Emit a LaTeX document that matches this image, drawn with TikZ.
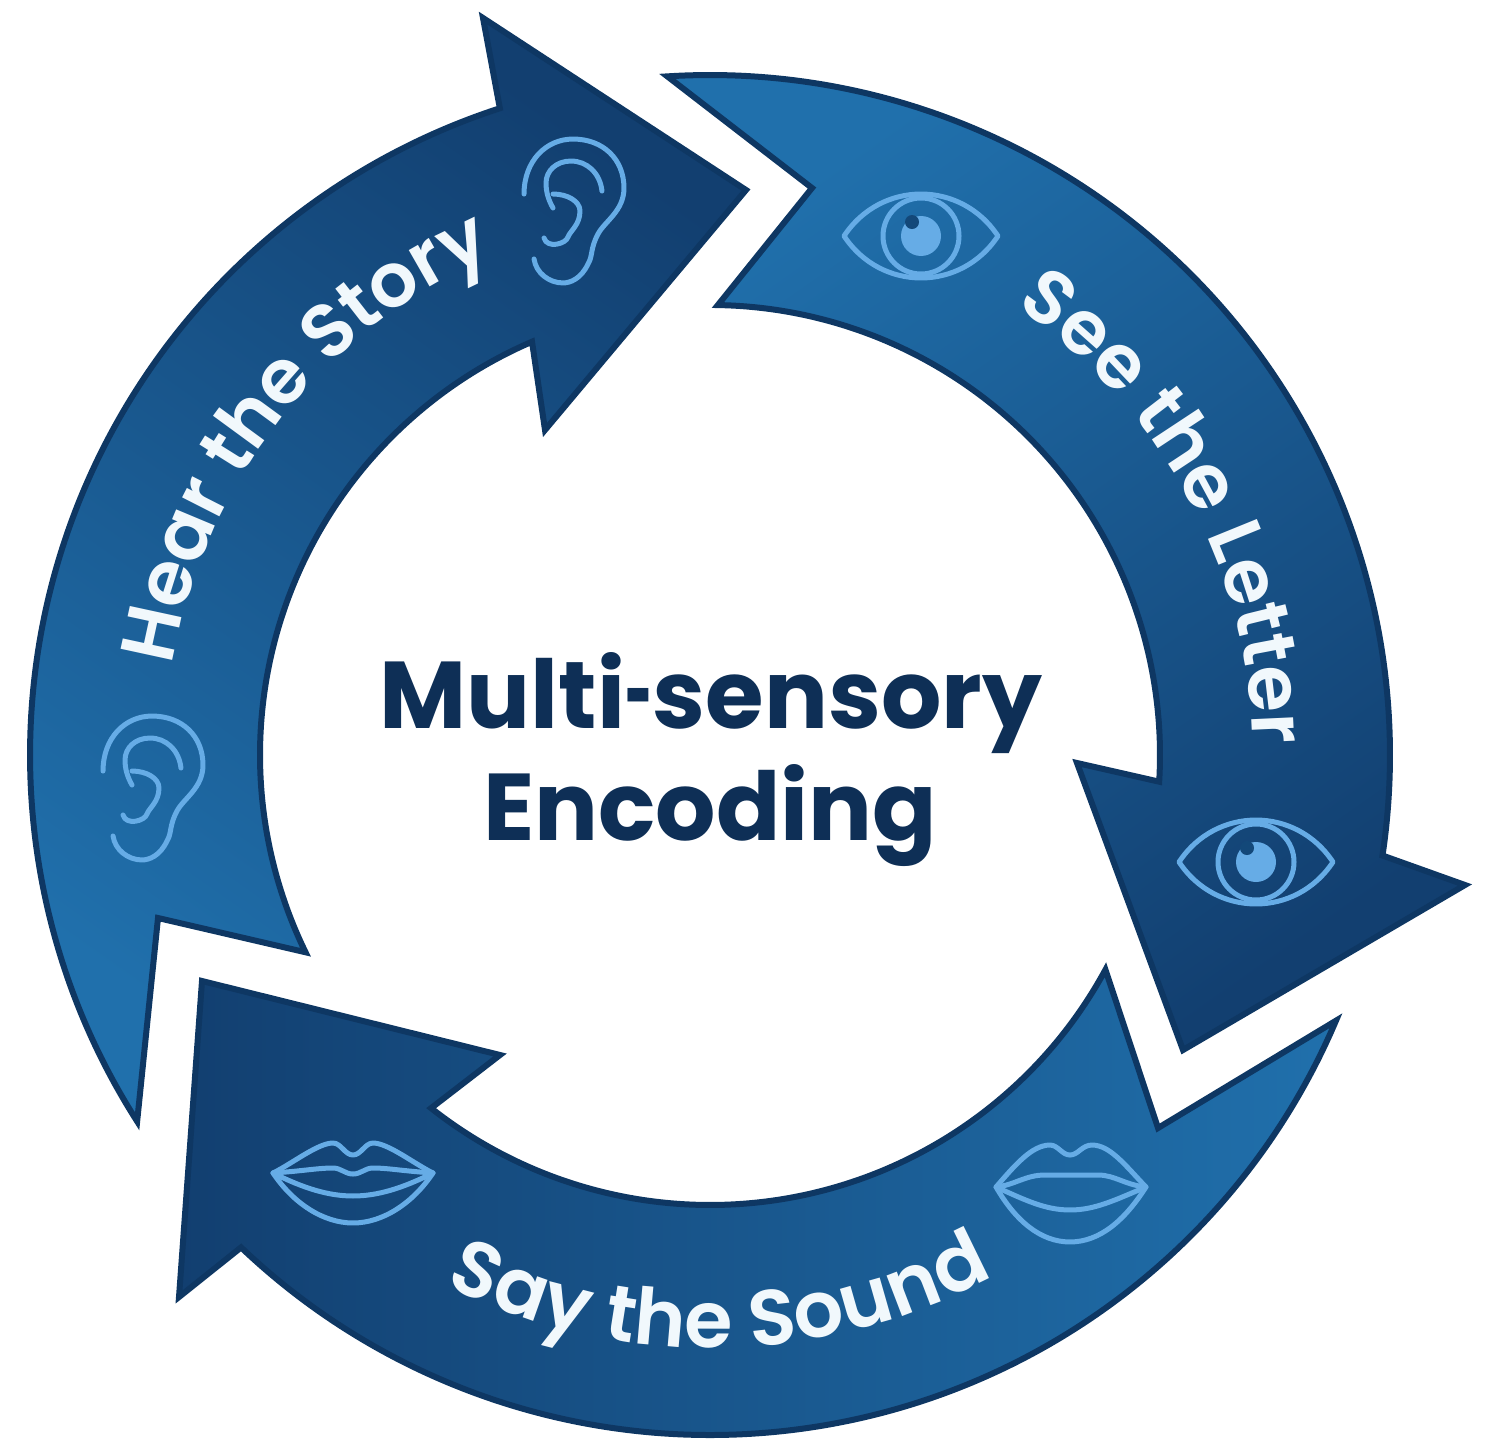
\documentclass[tikz,border=0pt]{standalone}
\usepackage{fontspec}
\setmainfont{Poppins}
\newfontfamily\semifont{Poppins SemiBold}
\usetikzlibrary{decorations.text}
\definecolor{rimblue}{HTML}{0E3763}
\definecolor{darkblue}{HTML}{123F70}
\definecolor{lightblue}{HTML}{2070AC}
\definecolor{iconblue}{HTML}{66ACE6}
\definecolor{labelwhite}{HTML}{F1F8FC}
\definecolor{titleblue}{HTML}{0E2F56}
\newcommand{\arclabelfont}{\fontsize{21.5}{26}\semifont}
\newcommand{\saylabelfont}{\fontsize{22.3}{26}\semifont}
\tikzset{
  arrowrim/.style={draw=rimblue, line width=0.06cm, line join=miter},
  iconline/.style={draw=iconblue, line width=0.05cm, line cap=round, line join=round, x=0.01cm, y=-0.01cm},
  titletext/.style={text=titleblue, font=\fontsize{27}{30}\selectfont\bfseries, anchor=base, inner sep=0pt},
  earicon/.pic={
    \draw[iconline] (-49,-17) .. controls (-49,-50) and (-27,-72) .. (0,-72) .. controls (30,-72) and (51,-52) .. (51,-23) .. controls (51,0) and (32,10) .. (25,23) .. controls (17,38) and (20,45) .. (15,53) .. controls (8,68) and (-3,72) .. (-10,72) .. controls (-24,72) and (-37,62) .. (-39,48);
    \draw[iconline] (29,-20) .. controls (27,-38) and (14,-50) .. (-2,-50) .. controls (-17,-50) and (-27,-40) .. (-27,-28) .. controls (-27,-18) and (-24,-10) .. (-20,-3);
    \draw[iconline] (-20,-17) .. controls (-6,-17) and (7,-10) .. (7,0) .. controls (7,14) and (-3,20) .. (-5,26) .. controls (-7,33) and (-26,38) .. (-29,27);
  },
  eyeicon/.pic={
    \draw[iconline] (-77,0) .. controls (-40,-56) and (40,-56) .. (77,0) .. controls (40,56) and (-40,56) .. (-77,0) -- cycle;
    \draw[iconline] (0,0) circle[radius=0.38cm];
    \fill[iconblue] (0,0) circle[radius=0.2cm];
    \fill[rimblue!70!lightblue, x=0.01cm, y=-0.01cm] (-9,-14) circle[radius=0.07cm];
  },
  lipsicon/.pic={
    \draw[iconline] (-80,-10) .. controls (-60,-20) and (-35,-40) .. (-20,-40) .. controls (-12,-40) and (-8,-28) .. (0,-28) .. controls (8,-28) and (12,-40) .. (20,-40) .. controls (35,-40) and (60,-20) .. (80,-10) .. controls (60,20) and (30,40) .. (0,40) .. controls (-30,40) and (-60,20) .. (-80,-10) -- cycle;
    \draw[iconline] (-80,-10) .. controls (-50,-12) and (-35,-15) .. (-20,-15) .. controls (-12,-15) and (-8,-9) .. (0,-9) .. controls (8,-9) and (12,-15) .. (20,-15) .. controls (35,-15) and (50,-12) .. (80,-10);
    \draw[iconline] (-80,-10) .. controls (-50,5) and (-25,13) .. (0,13) .. controls (25,13) and (50,5) .. (80,-10);
  },
  lipsopen/.pic={
    \draw[iconline] (-74,-3) .. controls (-55,-25) and (-38,-45) .. (-20,-45) .. controls (-12,-45) and (-8,-35) .. (0,-35) .. controls (8,-35) and (12,-45) .. (22,-45) .. controls (40,-45) and (55,-25) .. (76,-3) .. controls (55,30) and (30,52) .. (0,52) .. controls (-30,52) and (-55,30) .. (-74,-3) -- cycle;
    \draw[iconline] (-74,-3) .. controls (-55,-5) and (-45,-15) .. (-25,-15) -- (28,-15) .. controls (45,-15) and (55,-5) .. (76,-3);
    \draw[iconline] (-74,-3) .. controls (-45,10) and (-25,20) .. (0,20) .. controls (25,20) and (45,10) .. (76,-3);
  }
}
\begin{document}
\begin{tikzpicture}
  \useasboundingbox (0,0) rectangle (14.89,14.39);
  \begin{scope}[shift={(7.10,6.84)}]
    % Hear arrow
    \shade[arrowrim, top color=darkblue, bottom color=lightblue, shading angle=-35]
      (212.6:6.80) arc[start angle=212.6, end angle=108.0, radius=6.80cm]
      -- (-2.27,7.37) -- (0.36,5.65) -- (-1.65,3.25) -- (113.3:4.50)
      arc[start angle=113.3, end angle=206.0, radius=4.50cm]
      -- (-5.52,-1.63) -- cycle;
    % See arrow
    \shade[arrowrim, top color=lightblue, bottom color=darkblue, shading angle=35]
      (93.6:6.80) arc[start angle=93.6, end angle=-8.5, radius=6.80cm]
      -- (7.55,-1.30) -- (4.73,-2.95) -- (3.67,-0.08) -- (-3.4:4.50)
      arc[start angle=-3.4, end angle=89, radius=4.50cm]
      -- (1.02,5.67) -- cycle;
    % Say arrow
    \shade[arrowrim, left color=darkblue, right color=lightblue]
      (-23:6.80) arc[start angle=-23, end angle=-133.6, radius=6.80cm]
      -- (-5.31,-5.42) -- (-5.08,-2.26) -- (-2.10,-3.00) -- (-128.3:4.50)
      arc[start angle=-128.3, end angle=-28.5, radius=4.50cm]
      -- (4.48,-3.73) -- cycle;
    % Labels on the arrows
    \path[decorate, decoration={text along path, text color=labelwhite, text={|\arclabelfont|Hear the Story}, text align=center}]
      (172:5.45) arc[start angle=172, end angle=112, radius=5.45cm];
    \path[decorate, decoration={text along path, text color=labelwhite, text={|\arclabelfont|See the Letter}, text align=center}]
      (57.6:5.43) arc[start angle=57.6, end angle=-0.8, radius=5.43cm];
    \path[decorate, decoration={text along path, text color=labelwhite, text={|\saylabelfont|Say the Sound}, text align=center}]
      (-117:5.93) arc[start angle=-117, end angle=-61, radius=5.93cm];
    % Icons
    \pic at (-1.37,5.44) {earicon};
    \pic at (-5.58,-0.33) {earicon};
    \pic at (2.11,5.19) {eyeicon};
    \pic at (5.46,-1.07) {eyeicon};
    \pic at (-3.57,-4.28) {lipsicon};
    \pic at (3.60,-4.35) {lipsopen};
    % Title
    \node[titletext] (multi) at (0.01,0.27) {Multi\scalebox{0.5}[1]{-}sensory};
    \node[titletext] (encoding) at (0,-0.85) {Encoding};
  \end{scope}
\end{tikzpicture}
\end{document}
